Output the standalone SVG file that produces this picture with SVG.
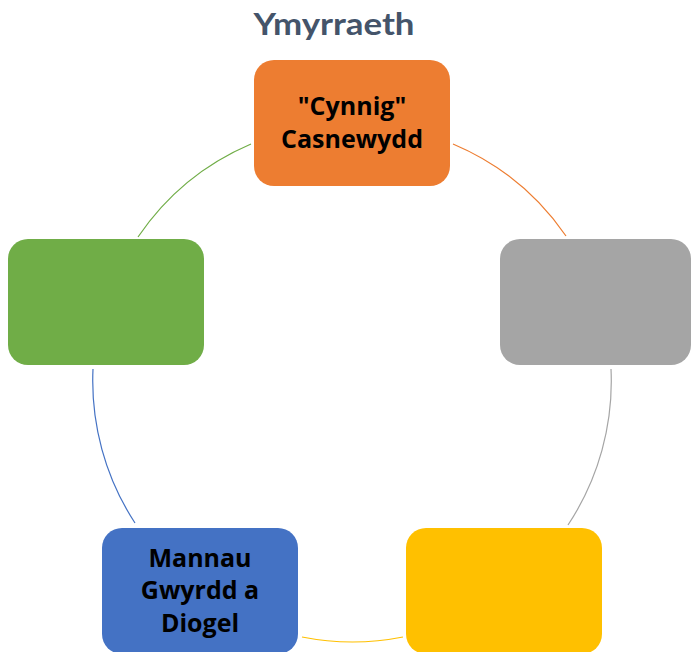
<svg xmlns="http://www.w3.org/2000/svg" width="691" height="652" viewBox="0 0 691 652">
<style>
.title{font-family:"Lato","Open Sans",sans-serif;font-weight:bold;font-size:31px;fill:#44546A}
.lbl{font-family:"Open Sans","Noto Sans",sans-serif;font-weight:bold;font-size:25px;fill:#000}
.arc{fill:none;stroke-width:1.2}
</style>
<rect width="691" height="652" fill="#FFFFFF"/>
<text class="title" x="334" y="35" text-anchor="middle" textLength="161" lengthAdjust="spacingAndGlyphs">Ymyrraeth</text>
<g id="connectors">
<path class="arc" stroke="#ED7D31" d="M453,144 A260,260 0 0,1 566,236"/>
<path class="arc" stroke="#A5A5A5" d="M611,369 A260,260 0 0,1 568,525"/>
<path class="arc" stroke="#FFC000" d="M403,637 A260,260 0 0,1 302,637"/>
<path class="arc" stroke="#4472C4" d="M135,523 A260,260 0 0,1 93,369"/>
<path class="arc" stroke="#70AD47" d="M138,237 A260,260 0 0,1 251,144"/>
</g>
<g id="node-orange">
<rect x="254" y="60" width="196" height="126" rx="20" fill="#ED7D31"/>
<text class="lbl" text-anchor="middle"><tspan x="352" y="115">"Cynnig"</tspan><tspan x="352" y="148">Casnewydd</tspan></text>
</g>
<g id="node-gray">
<rect x="500" y="239" width="191" height="126" rx="20" fill="#A5A5A5"/>
</g>
<g id="node-yellow">
<rect x="406" y="528" width="196" height="126" rx="20" fill="#FFC000"/>
</g>
<g id="node-blue">
<rect x="102" y="528" width="196" height="126" rx="20" fill="#4472C4"/>
<text class="lbl" text-anchor="middle"><tspan x="200" y="567">Mannau</tspan><tspan x="200" y="599">Gwyrdd a</tspan><tspan x="200" y="632">Diogel</tspan></text>
</g>
<g id="node-green">
<rect x="8" y="239" width="196" height="126" rx="20" fill="#70AD47"/>
</g>
</svg>
